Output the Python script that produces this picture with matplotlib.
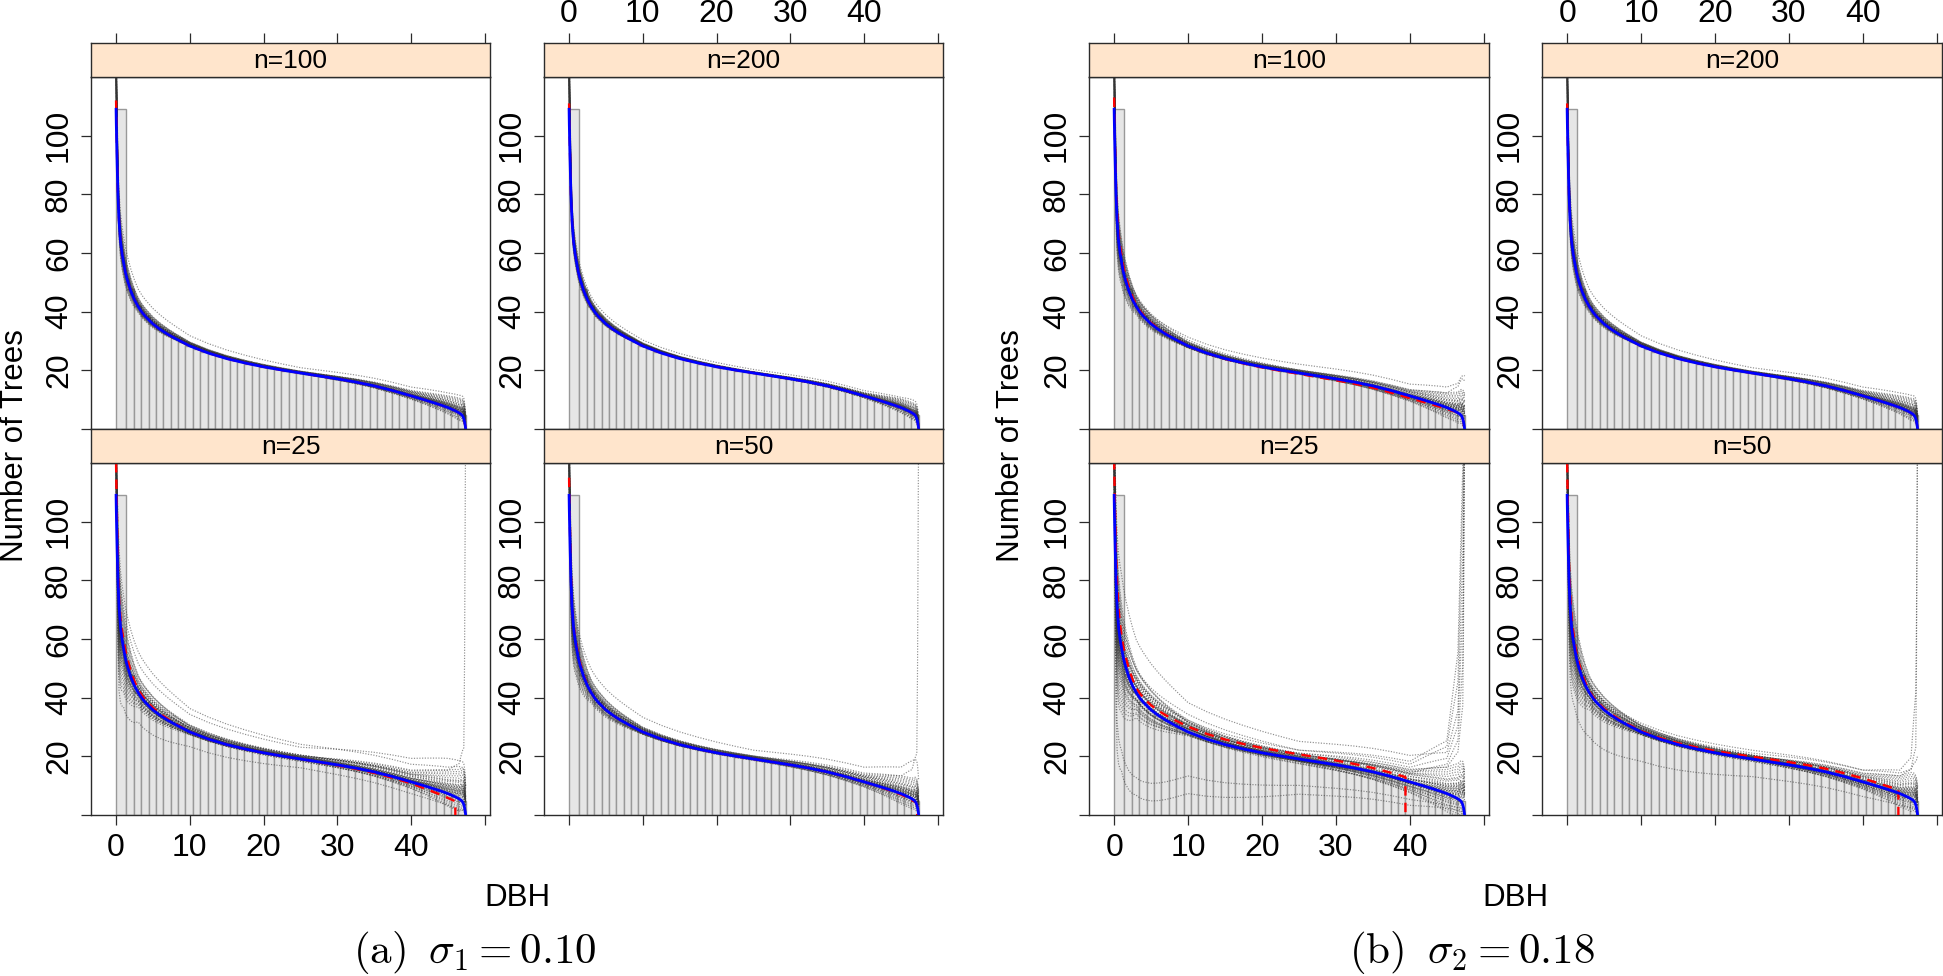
import numpy as np
import matplotlib
matplotlib.use("Agg")
import matplotlib.pyplot as plt

plt.rcParams['font.family'] = ['Liberation Sans', 'DejaVu Sans']
plt.rcParams['mathtext.fontset'] = 'cm'

W, H = 1943, 976

# ---------------- data ----------------
# true (blue) curve
blue_x = [0, 0.03, 0.08, 0.15, 0.25, 0.4, 0.6, 0.8, 1.0, 1.25, 1.5, 2.0, 2.5, 3.0, 3.5, 4, 5, 6, 7, 8,
          10, 12.5, 15, 17.5, 20, 22.5, 25, 27.5, 30, 32.5, 35, 37.5, 40, 42, 44, 45, 46, 46.5, 46.8,
          47.0, 47.15, 47.25, 47.35, 47.4]
blue_y = [109, 104, 98, 90, 80, 71, 64, 60, 57, 53.5, 51, 47, 44, 41.7, 39.8, 38.3, 35.8, 33.9, 32.3, 30.9,
          28.3, 25.9, 24.0, 22.5, 21.2, 20.1, 19.1, 18.1, 17.1, 16.0, 14.7, 13.1, 11.3, 9.8, 8.2, 7.3, 6.2, 5.5, 5.0,
          4.4, 3.5, 2.5, 1.0, 0]

# histogram (DBH classes)
bin_edges = [0, 1.4, 2.4, 3.4, 4.4, 5.4, 6.4, 7.4, 8.4, 9.4, 10.4, 11.4, 12.4, 13.4, 14.4, 15.4, 16.4,
             17.4, 18.4, 19.4, 20.4, 21.4, 22.4, 23.4, 24.4, 25.4, 26.4, 27.4, 28.4, 29.4, 30.4, 31.4,
             32.4, 33.4, 34.4, 35.4, 36.4, 37.4, 38.4, 39.4, 40.4, 41.4, 42.4, 43.4, 44.4, 45.4, 46.4, 47.4]
bar_heights = [109, 47.8, 42.1, 38.6, 36.0, 34.1, 32.5, 31.0, 29.7, 28.4, 27.4, 26.4, 25.6, 24.8, 24.1,
               23.4, 22.8, 22.3, 21.7, 21.2, 20.8, 20.4, 19.9, 19.5, 19.1, 18.7, 18.3, 17.9, 17.5, 17.1,
               16.7, 16.3, 15.8, 15.3, 14.7, 14.1, 13.5, 12.8, 12.1, 11.4, 10.6, 9.9, 9.1, 8.3, 7.4, 6.3, 4.8]

# simulated-curve cloud: offsets from the blue curve at these DBH values
anchor_x = [0, 0.3, 1, 3, 10, 25, 40, 45, 46.5, 47.2, 47.4]
anchor_w = [0, 0, 0, 0.15, 0.35, 0.6, 0.85, 1, 1, 1, 1]
frac_head = [0.50, 0.45, 0.55, 0.40, 0.60, 0.35, 0.65, 0.30, 0.70, 0.48, 0.52, 0.25, 0.75, 0.42,
             0.58, 0.20, 0.80, 0.15, 0.85, 0.10, 0.90, 0.05, 0.95, 0.0, 1.0, 0.38, 0.62, 0.47,
             0.53, 0.33, 0.67, 0.44, 0.56, 0.28, 0.72, 0.50, 0.46, 0.54, 0.37, 0.63]
frac_tail = [0.52, 0.60, 0.40, 0.45, 0.58, 0.70, 0.30, 0.50, 0.65, 0.35, 0.75, 0.55, 0.25, 0.80,
             0.20, 0.62, 0.45, 0.90, 0.10, 0.85, 0.38, 1.0, 0.15, 0.95, 0.05, 0.50, 0.44, 0.56,
             0.36, 0.64, 0.48, 0.27, 0.73, 0.54, 0.41, 0.47, 0.59, 0.43, 0.51, 0.33]

# (a) sigma1 = 0.10
lo_a100 = [3, -6, -5, -3, -1.5, -1.2, -2, -2.5, -3, -2, 0]
hi_a100 = [30, 8, 6, 4, 2.5, 1.5, 2.5, 4, 5, 6, 5]
ex_a100 = [[12, 10, 9, 6, 3.5, 1.8, 3, 5, 6, 7, 5]]
lo_a200 = [3, -4, -3, -2, -1, -0.8, -1.2, -2, -2.5, -2, 0]
hi_a200 = [30, 6, 4, 3, 1.8, 1.0, 1.5, 3, 3.5, 4, 3]
ex_a200 = [[10, 6, 5, 3.5, 2, 1.2, 1.8, 3.5, 4.5, 5, 4]]
lo_a25 = [3, -25, -15, -7, -4, -3, -4, -5, -5, -3, 0]
hi_a25 = [30, 15, 12, 8, 5, 3.5, 5, 8, 10, 12, 10]
ex_a25 = [[8, 5, 2, 1, 0.5, 1, 4, 8, 12, 20, 140],
          [25, 20, 18, 14, 8, 5, 6, 9, 11, 12, 10],
          [20, 15, 14, 10, 6, 4, 8, 12, 13, 14, 12],
          [5, -30, -20, -10, -5, -3, -4, -4, -4, -2, 0]]
lo_a50 = [3, -15, -10, -5, -3, -2, -3, -4, -4, -3, 0]
hi_a50 = [30, 10, 9, 6, 3.5, 2.5, 3.5, 6, 7, 9, 8]
ex_a50 = [[5, 2, 2, 2, 1, 1, 3, 6, 10, 18, 140],
          [15, 12, 10, 8, 5, 3, 5, 9, 13, 15, 12]]

# (b) sigma2 = 0.18
lo_b100 = [3, -12, -8, -4, -2.5, -2, -3, -4, -4, -3, 0]
hi_b100 = [30, 10, 8, 5, 3, 2.5, 3, 5, 7, 10, 12]
ex_b100 = [[5, 0, 2, 3, 3, 3, 4, 7, 10, 15, 18],
           [8, 5, 5, 4, 2, 1, 2, 5, 9, 14, 16]]
lo_b200 = [3, -6, -5, -3, -1.5, -1.2, -2, -2.5, -3, -2, 0]
hi_b200 = [30, 8, 6, 4, 2.5, 1.5, 2.5, 4, 5, 6, 5]
ex_b200 = [[12, 10, 9, 6, 3.5, 1.8, 3, 5, 6, 7, 5]]
lo_b25 = [3, -30, -22, -12, -6, -5, -6, -7, -7, -4, 0]
hi_b25 = [30, 20, 15, 12, 8, 5, 6, 9, 12, 15, 15]
ex_b25 = [[30, 25, 25, 18, 10, 6, 9, 14, 30, 90, 140],
          [10, 5, 3, 2, 1, 2, 5, 12, 25, 70, 140],
          [5, -5, 0, 3, 2, 1, 3, 10, 20, 50, 140],
          [8, 2, 4, 5, 4, 3, 6, 16, 40, 110, 140],
          [3, -40, -35, -29, -15, -9, -6, -4, -3, -2, 0],
          [3, -50, -42, -35, -21, -12, -8, -5, -4, -3, 0],
          [15, 12, 10, 8, 6, 3, 7, 18, 50, 120, 140],
          [12, 8, 6, 5, 3, 2, 4, 9, 16, 35, 140]]
lo_b50 = [3, -20, -15, -8, -4, -3, -4, -5, -5, -3, 0]
hi_b50 = [30, 15, 12, 8, 5, 3.5, 4, 6, 9, 10, 10]
ex_b50 = [[5, 2, 2, 2, 1, 1, 3, 6, 10, 20, 140],
          [10, 5, 4, 3, 2, 2, 4, 8, 14, 40, 140],
          [3, -25, -20, -15, -10, -6, -5, -4, -3, -2, 0],
          [5, 0, 2, 3, 3, 3, 4, 7, 10, 15, 20]]

# estimated (red dashed) curve: offsets from blue at anchor_x, and DBH where it ends
red_a100 = [3, 0, 0, 0, 0, 0, 0, 0, 0, 0, 0]; red_end_a100 = 47.35
red_a200 = [2, 0, 0, 0, 0, 0, 0, 0, 0, 0, 0]; red_end_a200 = 47.35
red_a25 = [11, 3, 3, 1, 0, 0, -0.5, -1.5, -1.5, -1, 0]; red_end_a25 = 46.0
red_a50 = [6, 1, 1, 0, 0, 0, 0, -0.3, -0.5, 0, 0]; red_end_a50 = 47.2
red_b100 = [4, 3, 2, 0.5, 0, -0.3, -0.8, -0.5, 0, 0, 0]; red_end_b100 = 47.3
red_b200 = [2, 0, 0, 0, 0, 0, 0, 0, 0, 0, 0]; red_end_b200 = 47.35
red_b25 = [12, 8, 4, 1.5, 1.8, 1.6, 1.2, 1, 1, 1, 1]; red_end_b25 = 39.4
red_b50 = [11, 5, 2, 0.5, 0.3, 0.8, 1.2, 1.0, 1, 1, 1]; red_end_b50 = 44.8

panel_labels = ["n=100", "n=200", "n=25", "n=50"]
x_ticks = [0, 10, 20, 30, 40, 50]
x_ticklabels = ["0", "10", "20", "30", "40", ""]
y_ticks = [0, 20, 40, 60, 80, 100]
y_ticklabels = ["", "20", "40", "60", "80", "100"]
captions = [r"$\mathrm{(a)}\;\;\sigma_1 = 0.10$", r"$\mathrm{(b)}\;\;\sigma_2 = 0.18$"]

panels = {
    ("a", "n=100"): (lo_a100, hi_a100, ex_a100, red_a100, red_end_a100),
    ("a", "n=200"): (lo_a200, hi_a200, ex_a200, red_a200, red_end_a200),
    ("a", "n=25"): (lo_a25, hi_a25, ex_a25, red_a25, red_end_a25),
    ("a", "n=50"): (lo_a50, hi_a50, ex_a50, red_a50, red_end_a50),
    ("b", "n=100"): (lo_b100, hi_b100, ex_b100, red_b100, red_end_b100),
    ("b", "n=200"): (lo_b200, hi_b200, ex_b200, red_b200, red_end_b200),
    ("b", "n=25"): (lo_b25, hi_b25, ex_b25, red_b25, red_end_b25),
    ("b", "n=50"): (lo_b50, hi_b50, ex_b50, red_b50, red_end_b50),
}

# ---------------- layout (pixels) ----------------
XLIM = (-3.4, 50.7)
YLIM = (0, 120)
col_px = {"a": [(91, 490), (544, 943)], "b": [(1089, 1489), (1542, 1942)]}
row_px = [((43, 77), (77, 429)), ((429, 463), (463, 815))]
SPINE = "#2b2b2b"
TICK_FS = 23


def rect(x0, x1, y0, y1):
    return [x0 / W, 1 - y1 / H, (x1 - x0) / W, (y1 - y0) / H]


fig = plt.figure(figsize=(W / 100, H / 100), dpi=100)

bx = np.array(blue_x, dtype=float)
by = np.array(blue_y, dtype=float)
widths = np.diff(bin_edges)


def draw_panel(ax, lo, hi, extras, red_off, red_end):
    ax.bar(bin_edges[:-1], bar_heights, width=widths, align="edge",
           color="#E6E6E6", edgecolor="#999999", linewidth=1.0, zorder=1)
    lo_i = np.interp(bx, anchor_x, lo)
    hi_i = np.interp(bx, anchor_x, hi)
    w_i = np.interp(bx, anchor_x, anchor_w)
    style = dict(color="#333333", lw=0.85, ls=(0, (1, 1.3)), alpha=0.55, zorder=2)
    for fa, fb in zip(frac_head, frac_tail):
        f = fa * (1 - w_i) + fb * w_i
        ax.plot(bx, by + lo_i + f * (hi_i - lo_i), **style)
    for e in extras:
        ax.plot(bx, by + np.interp(bx, anchor_x, e), **style)
    # red dashed estimate
    ry = by + np.interp(bx, anchor_x, red_off)
    m = bx < red_end
    y_end = np.interp(red_end, bx, ry)
    rx = np.concatenate([bx[m], [red_end, red_end]])
    ryy = np.concatenate([ry[m], [y_end, 0]])
    ax.plot(rx, ryy, color="red", lw=1.7, ls=(0, (4, 3)), zorder=3)
    # blue true curve
    ax.plot(bx, by, color="#0000FF", lw=2.0, zorder=4)


for fig_key in ["a", "b"]:
    for r, ((sy0, sy1), (py0, py1)) in enumerate(row_px):
        for c, (x0, x1) in enumerate(col_px[fig_key]):
            lab = panel_labels[r * 2 + c]
            ax = fig.add_axes(rect(x0, x1, py0, py1))
            lo, hi, ex, red_off, red_end = panels[(fig_key, lab)]
            draw_panel(ax, lo, hi, ex, red_off, red_end)
            ax.set_xlim(*XLIM)
            ax.set_ylim(*YLIM)
            for sp in ax.spines.values():
                sp.set_color(SPINE)
                sp.set_linewidth(1.0)
            ax.set_yticks(y_ticks)
            ax.set_yticklabels(y_ticklabels, rotation=90, va="center")
            ax.tick_params(axis="y", direction="out", length=7.2, width=0.9, colors=SPINE,
                           labelcolor="black", labelsize=TICK_FS, pad=5)
            ax.set_xticks(x_ticks)
            if r == 1:
                ax.set_xticklabels(x_ticklabels if c == 0 else [""] * len(x_ticks))
                ax.tick_params(axis="x", direction="out", length=7.2, width=0.9, colors=SPINE,
                               labelcolor="black", labelsize=TICK_FS, pad=6)
            else:
                ax.tick_params(axis="x", bottom=False, labelbottom=False)

            # strip
            sax = fig.add_axes(rect(x0, x1, sy0, sy1))
            sax.set_facecolor("#FFE5CC")
            sax.set_xlim(*XLIM)
            sax.set_ylim(0, 1)
            sax.set_yticks([])
            for sp in sax.spines.values():
                sp.set_color(SPINE)
                sp.set_linewidth(1.0)
            sax.text(0.5, 0.47, lab, transform=sax.transAxes, ha="center", va="center",
                     fontsize=19)
            if r == 0:
                sax.set_xticks(x_ticks)
                sax.xaxis.set_ticks_position("top")
                sax.set_xticklabels(x_ticklabels if c == 1 else [""] * len(x_ticks))
                sax.tick_params(axis="x", direction="out", length=7.2, width=0.9, colors=SPINE,
                                labelcolor="black", labelsize=TICK_FS, pad=3)
            else:
                sax.set_xticks([])

    # axis labels and caption
    left = col_px[fig_key][0][0]
    right = col_px[fig_key][1][1]
    xc = (left + right) / 2
    fig.text(xc / W, 1 - 898 / H, "DBH", ha="center", va="center", fontsize=22.5)
    ylx = 15 if fig_key == "a" else 1011
    fig.text(ylx / W, 1 - 446 / H, "Number of Trees", ha="center", va="center",
             rotation=90, fontsize=22.5)
    cap_x = 475 if fig_key == "a" else 1472
    fig.text(cap_x / W, 1 - 952 / H, captions[0 if fig_key == "a" else 1],
             ha="center", va="center", fontsize=31)

fig.savefig("out.png", dpi=100, facecolor="white")
